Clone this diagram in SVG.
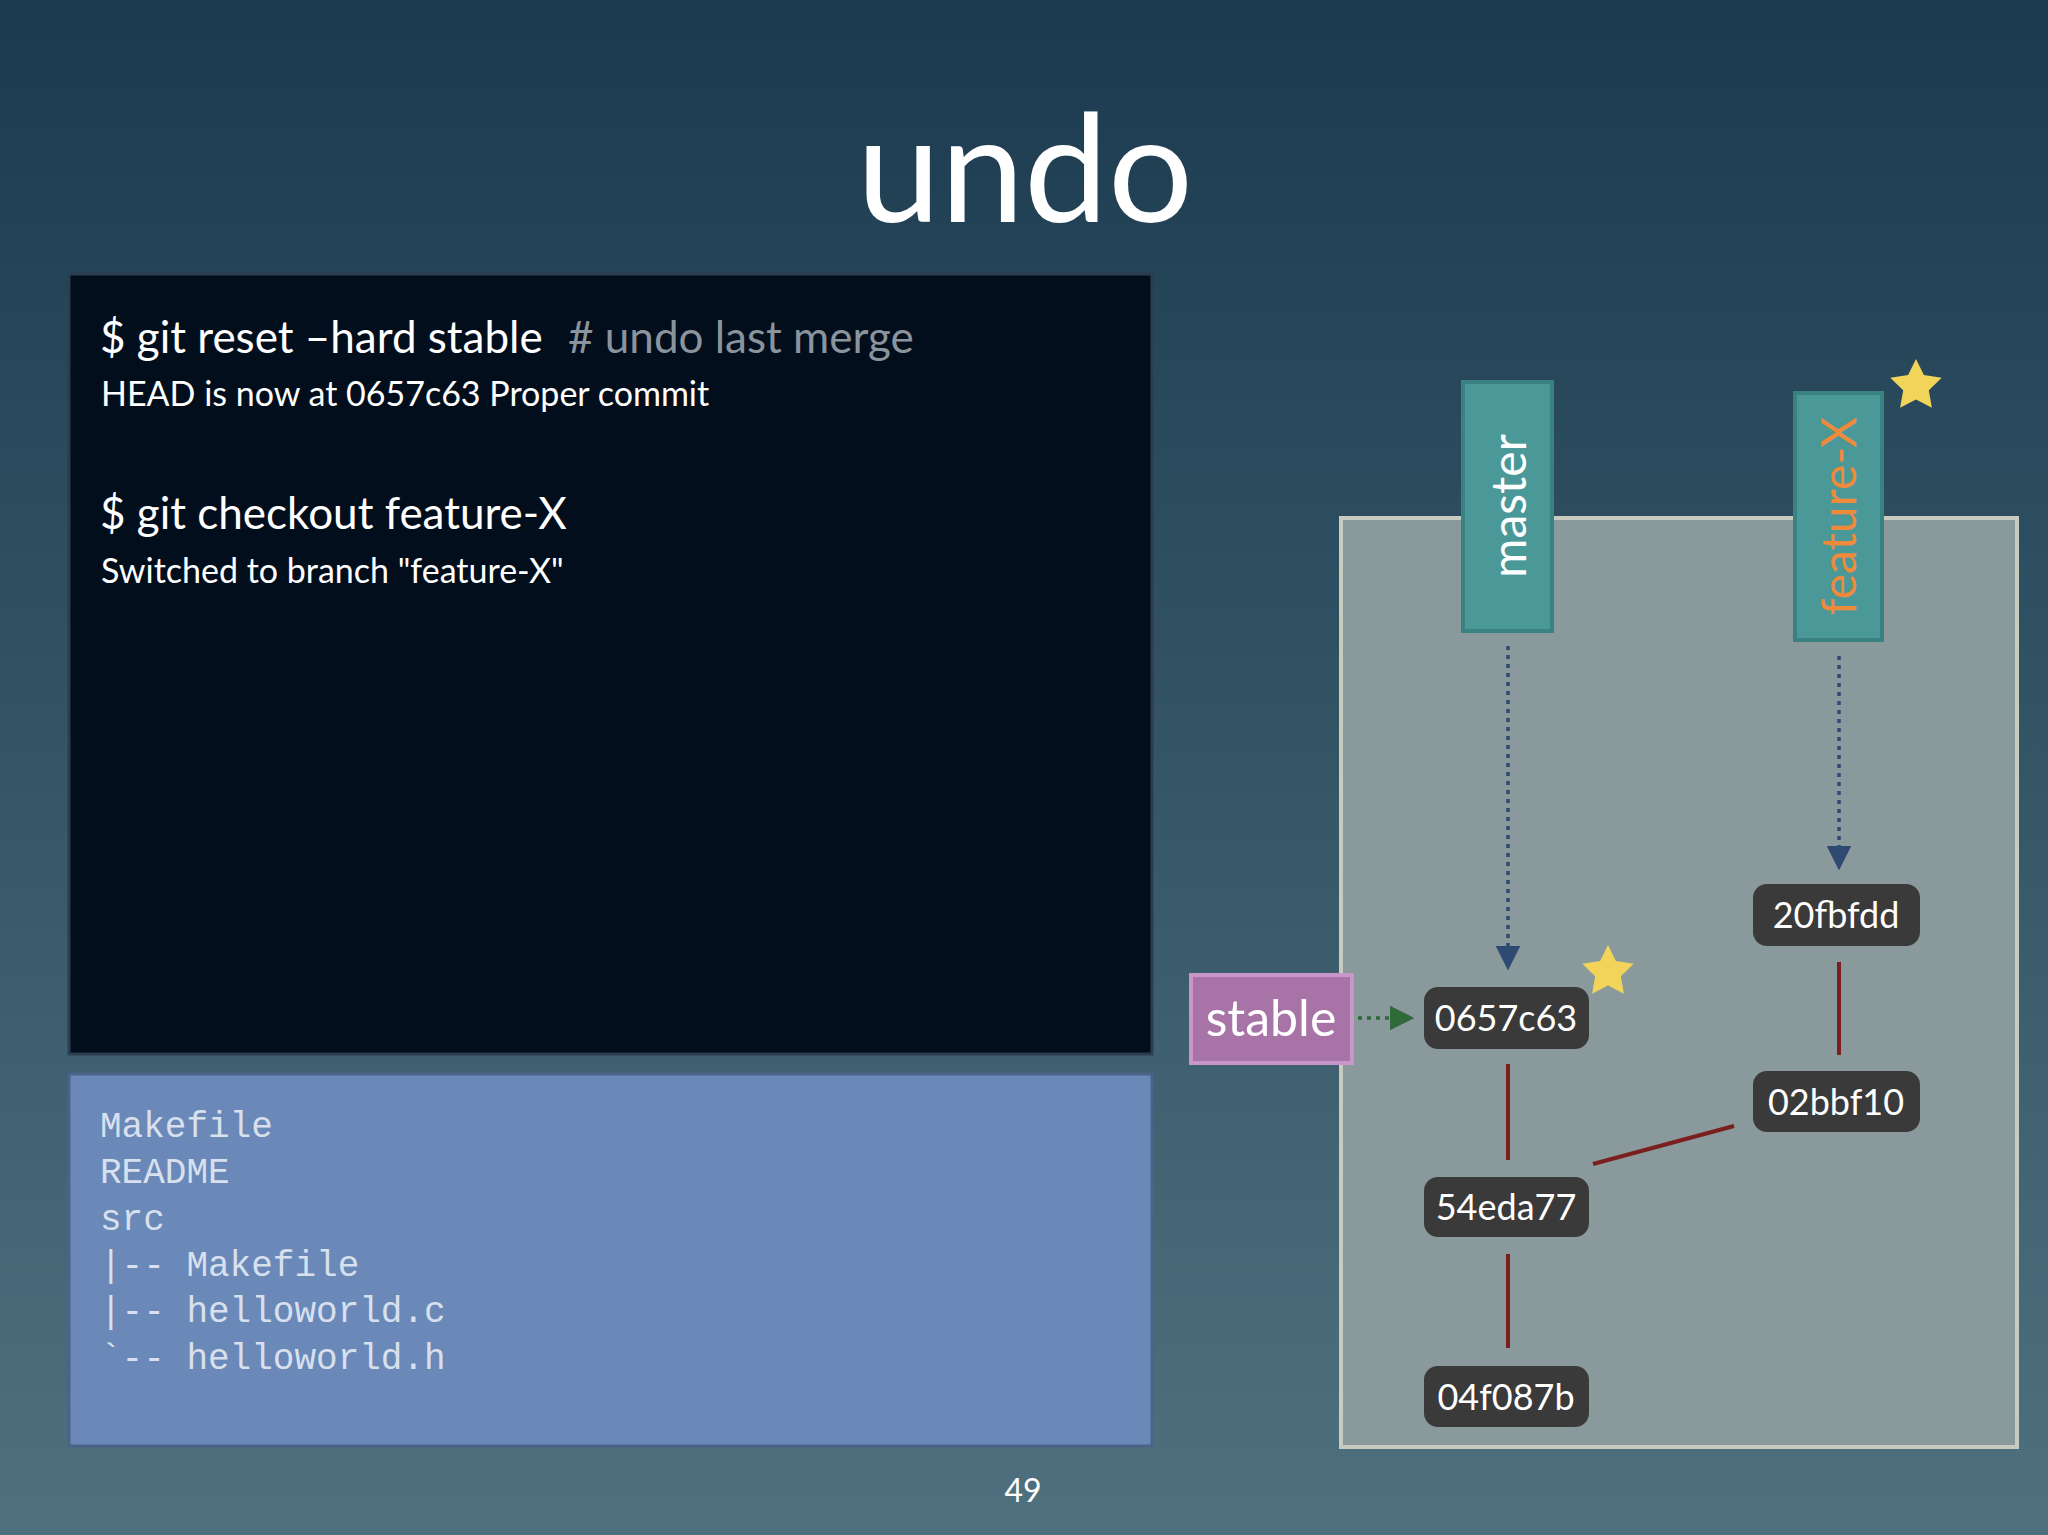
<svg xmlns="http://www.w3.org/2000/svg" width="2048" height="1535" viewBox="0 0 2048 1535">
<defs>
<linearGradient id="bg" x1="0" y1="0" x2="0" y2="1"><stop offset="0" stop-color="#1b3a4f"/><stop offset="1" stop-color="#4f717f"/></linearGradient>
<marker id="ab" viewBox="0 0 10 10" refX="9" refY="5" markerWidth="7" markerHeight="7" orient="auto"><path d="M0,0 L10,5 L0,10 z" fill="#2e4a70"/></marker>
<marker id="ag" viewBox="0 0 10 10" refX="9" refY="5" markerWidth="7" markerHeight="7" orient="auto"><path d="M0,0 L10,5 L0,10 z" fill="#2e6a3a"/></marker>
<polygon id="star" points="0,-27 7.9,-10.9 25.7,-8.3 12.8,4.2 15.9,21.8 0,13.5 -15.9,21.8 -12.8,4.2 -25.7,-8.3 -7.9,-10.9" fill="#f2d45a"/>
</defs>
<style>
.t{font-family:Lato,"Open Sans",sans-serif;fill:#fff}
.c rect{fill:#3a3a3a}
.c text{font-family:Lato,"Open Sans",sans-serif;fill:#fff;font-size:36px;text-anchor:middle}
.m{font-family:"Liberation Mono",monospace;fill:#d8e0ee;font-size:36px}
.e{stroke:#7a1e1e;stroke-width:4;fill:none}
.d{stroke:#2e4a70;stroke-width:3.5;stroke-dasharray:4 5;fill:none}
</style>
<rect width="2048" height="1535" fill="url(#bg)"/>
<text class="t" x="1025" y="222" font-size="150" text-anchor="middle">undo</text>
<g id="terminal">
<rect x="69" y="274" width="1083" height="780" fill="#020e1c" stroke="#2a3e50" stroke-width="3"/>
<text class="t" x="100" y="353" font-size="44">$ git reset –hard stable <tspan fill="#8a949c" dx="14">#</tspan><tspan fill="#8a949c"> undo last merge</tspan></text>
<text class="t" x="101" y="406" font-size="34">HEAD is now at 0657c63 Proper commit</text>
<text class="t" x="100" y="529" font-size="44">$ git checkout feature-X</text>
<text class="t" x="101" y="583" font-size="34">Switched to branch "feature-X"</text>
</g>
<g id="files">
<rect x="69" y="1074" width="1083" height="372" fill="#6a88b8" stroke="#4a6488" stroke-width="3"/>
<text class="m" x="100" y="1137">Makefile</text>
<text class="m" x="100" y="1183">README</text>
<text class="m" x="100" y="1230">src</text>
<text class="m" x="100" y="1276">|-- Makefile</text>
<text class="m" x="100" y="1322">|-- helloworld.c</text>
<text class="m" x="100" y="1369">`-- helloworld.h</text>
</g>
<rect id="graph" x="1341" y="518" width="676" height="929" fill="#8a9a9c" stroke="#c8cbbf" stroke-width="4"/>
<g id="connectors">
<line class="e" x1="1508" y1="1064" x2="1508" y2="1160"/>
<line class="e" x1="1508" y1="1254" x2="1508" y2="1348"/>
<line class="e" x1="1839" y1="962" x2="1839" y2="1055"/>
<line class="e" x1="1593" y1="1164" x2="1734" y2="1126"/>
<line class="d" x1="1508" y1="646" x2="1508" y2="968" marker-end="url(#ab)"/>
<line class="d" x1="1839" y1="656" x2="1839" y2="868" marker-end="url(#ab)"/>
<line x1="1358" y1="1018" x2="1412" y2="1018" stroke="#2e6a3a" stroke-width="3.5" stroke-dasharray="4 5" marker-end="url(#ag)"/>
</g>
<g id="master"><rect x="1463" y="382" width="89" height="249" fill="#4a9898" stroke="#3a8282" stroke-width="4"/>
<text class="t" transform="translate(1526,506) rotate(-90)" font-size="48" text-anchor="middle">master</text></g>
<g id="featureX"><rect x="1795" y="393" width="87" height="247" fill="#4a9898" stroke="#3a8282" stroke-width="4"/>
<text class="t" transform="translate(1856,516) rotate(-90)" font-size="48" text-anchor="middle" style="fill:#ee8a3c">feature-X</text>
<use href="#star" x="1916" y="386"/></g>
<g id="stable"><rect x="1191" y="975" width="161" height="88" fill="#a874a8" stroke="#c896c8" stroke-width="4"/>
<text class="t" x="1271" y="1036" font-size="50" text-anchor="middle">stable</text></g>
<g id="c0657c63" class="c"><rect x="1424" y="987" width="165" height="62" rx="14"/><text x="1506" y="1031">0657c63</text><use href="#star" x="1608" y="972"/></g>
<g id="c54eda77" class="c"><rect x="1424" y="1177" width="165" height="60" rx="14"/><text x="1506" y="1220">54eda77</text></g>
<g id="c04f087b" class="c"><rect x="1424" y="1366" width="165" height="61" rx="14"/><text x="1506" y="1410">04f087b</text></g>
<g id="c20fbfdd" class="c"><rect x="1753" y="884" width="167" height="62" rx="14"/><text x="1836" y="928">20fbfdd</text></g>
<g id="c02bbf10" class="c"><rect x="1753" y="1071" width="167" height="61" rx="14"/><text x="1836" y="1115">02bbf10</text></g>
<text class="t" x="1023" y="1502" font-size="32" text-anchor="middle">49</text>
</svg>
